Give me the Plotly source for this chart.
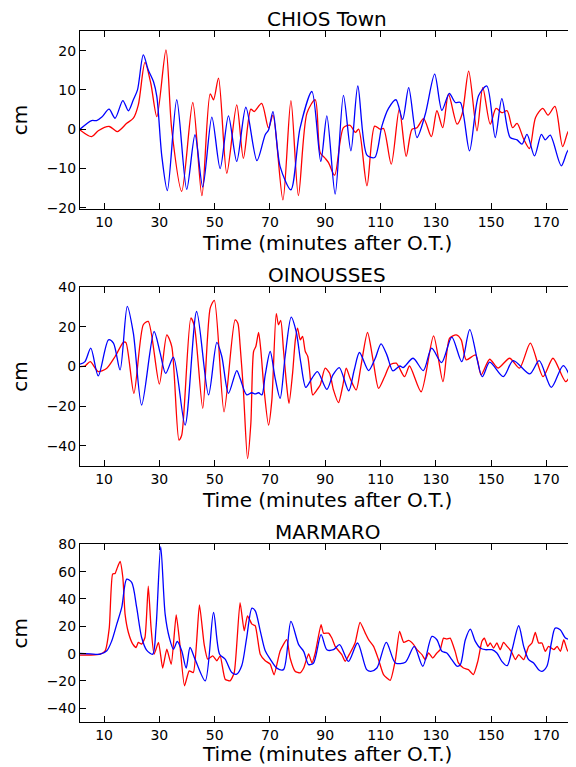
import plotly.graph_objects as go

# ---------------- data ----------------
# Panel 1: CHIOS Town
chios_blue_t = [1.3, 5.5, 7.3, 9.2, 11.8, 14.0, 16.8, 18.8, 20.6, 22.1, 24.2, 26.0, 27.9, 29.1, 30.9, 32.9,
                36.3, 39.9, 42.9, 45.7, 49.0, 52.0, 55.0, 58.0, 61.3, 65.3, 68.3, 69.5, 71.1, 73.7, 77.6, 80.9,
                85.2, 88.4, 90.6, 93.6, 96.6, 99.3, 101.8, 105.1, 107.9, 110.5, 112.9, 115.6, 118.0, 120.2,
                123.2, 126.2, 129.6, 132.2, 134.9, 137.1, 138.9, 142.2, 145.5, 148.5, 151.5, 153.9, 156.9,
                159.4, 161.2, 163.0, 165.7, 168.2, 169.6, 171.4, 175.4, 178.0, 180.0]
chios_blue_cm = [0, 2.2, 2.2, 3.1, 5.1, 2.8, 7.3, 4.7, 7.5, 10, 18.9, 15.1, 12.1, 8.3, -6.9, -15.6,
                 7.5, -15.3, -1.4, -14.7, 3.1, -10, 3.4, -8.2, 5.6, -8, -1.4, -0.2, 4.5, -9.5, -15.4, 0.3,
                 9.6, -8.2, 3.4, -16.5, 8.6, -5.5, 11, -6.6, -7.2, 0.8, 5.3, 7.5, 2.5, 10.6,
                 -2.1, 3.8, 14, 4.8, 9.1, 6.8, 6.8, -5.5, 8.6, 11, -2.1, 7.8, -2.1,
                 -2.7, -3.8, -1.3, -6.8, -1.3, -2.7, -1.5, -9.3, -5.3, -6.1]
chios_red_t = [1.3, 5.5, 7.9, 11.9, 14.8, 18.2, 20.6, 22.4, 24.8, 26.9, 29.1, 32.4, 34.5, 38.1, 42.1, 45.4,
               48.4, 49.6, 51.4, 54.4, 58.0, 60.4, 63.1, 64.3, 67.0, 69.5, 71.1, 74.7, 77.6, 80.3, 83.4, 86.4,
               88.2, 90.0, 91.2, 93.4, 96.6, 99.0, 100.9, 102.1, 105.1, 107.9, 109.9, 111.1, 113.9, 116.8,
               119.3, 121.4, 123.2, 125.6, 128.4, 130.4, 132.5, 134.6, 137.7, 139.5, 141.9, 144.9, 147.0,
               149.7, 151.8, 153.9, 155.8, 157.8, 159.4, 161.8, 163.9, 166.1, 168.7, 170.6, 173.1, 175.9,
               178.1, 180.0]
chios_red_cm = [-0.2, -1.9, -0.4, 0.7, -0.6, 1.5, 2.8, 6.2, 17, 11.7, 3.2, 20.2, -0.2, -15.8, 6.8, -16.9,
                9, 7.5, 13, -11.2, 6.2, -7.4, 5.1, 4.5, 6.6, 0.3, 3.6, -18, 7.3, -16.9, 4.1, 7.5,
                -6.0, -7.4, -8.5, -11.7, 0.4, 1, -0.8, 0, -14.4, 0.8, 0, 0.2, -8.9, 5.1,
                -6.9, 0, 0.4, 2.7, -1.9, 4.7, 0.4, 8.9, 1.3, 3.8, 14.8, -0.4, 10.6,
                1.3, 5.3, 4.2, 4.7, 0.4, 1.5, -2.5, -4.9, 3, 5.3, 3.6, 5.8, -4.4,
                -0.4, -2.4]

# Panel 2: OINOUSSES
oin_blue_t = [1.3, 3.1, 5.2, 7.9, 11.6, 13.4, 15.8, 18.4, 20.6, 23.6, 28.1, 30.3, 32.3, 35.1, 39.3, 43.5,
              47.8, 50.8, 52.6, 55.0, 58.0, 59.2, 61.6, 63.4, 64.7, 65.9, 67.1, 68.3, 70.1, 71.9, 73.7, 75.5,
              77.7, 79.5, 81.2, 83.0, 85.2, 87.2, 90.6, 92.8, 95.1, 98.5, 100.5, 102.4, 105.7, 108.1, 110.2,
              112.3, 114.5, 117.0, 118.2, 121.8, 125.5, 128.5, 132.1, 135.8, 139.4, 142.3, 146.8, 149.5,
              154.4, 158.0, 164.0, 167.4, 171.8, 176.1, 179.6]
oin_blue_cm = [1.2, 2.5, 9.3, -4.7, 13.5, 11.8, -1.7, 30.4, 16.9, -19.4, 17.7, 6.8, -3.4, 4.7, -29.5, 27.8,
               -14.3, 12.2, 5.1, -13.5, -2, -5.9, -14.3, -13.2, -13.8, -13.2, -14.3, -4.2, 7.6, -5.9, -16, 5.1,
               25, 17.7, 1.7, -10.5, -5.9, -2.5, -11.5, -4.2, -0.5, -12.2, -1.7, 7.1, -2, 4.2, 11.5,
               5.9, -2.2, 0.3, -0.5, 4.2, -2, 9.3, 2, 14.9, 2.5, 18.6, -5.1, 2.2,
               -5.1, 3, -3.7, 3, -10.5, 0.5, -8.8]
oin_red_t = [1.3, 3.1, 5.0, 7.9, 11.0, 14.0, 17.0, 17.9, 20.8, 24.2, 26.0, 30.0, 32.7, 34.5, 37.1, 38.1,
             41.4, 42.7, 45.7, 48.4, 49.9, 53.4, 57.4, 58.4, 59.2, 60.4, 61.9, 63.1, 64.1, 64.9, 65.9, 66.7,
             67.9, 69.5, 70.7, 72.3, 73.1, 73.9, 74.9, 76.1, 76.9, 78.2, 79.2, 80.0, 81.0, 81.8, 82.8, 83.7,
             84.8, 85.5, 87.0, 88.2, 90.0, 91.6, 93.0, 94.8, 96.4, 97.6, 99.0, 101.2, 102.9, 105.3, 107.3,
             109.3, 111.4, 113.5, 115.7, 118.7, 120.5, 124.7, 129.2, 132.6, 135.0, 137.4, 139.2, 141.0,
             144.4, 146.4, 149.5, 152.5, 156.7, 160.3, 164.2, 168.8, 172.4, 177.0, 179.6]
oin_red_cm = [0, 0.3, 2.5, -2.5, -0.8, 5.1, 12.2, 12.2, -13.5, 21.1, 22.8, -8.8, 16, 10.1, -37.1, -34.6,
              24.5, 20.3, -21.1, 29.5, 33.4, -22.8, 23.6, 21.9, 11, -11.8, -46.4, -28.7, 7.6, 10.1, 17.2, 8.5,
              -11.8, -29.5, -16.9, 26.7, 21.1, 23.3, 8.5, -10.1, -18.6, -3.4, 13.5, 19.4, 13.5, 15.2, 7.6, 5.1,
              -8.4, -14.3, -11.8, -9.3, -0.8, -3.4, -11.8, -18.2, -9.3, -0.8, -5.9, -11.8, 0, 17.2, 3.4,
              -11, -5.4, 0.9, 1.7, -5.1, 0.3, -12.7, 15.5, -7.6, 14.3, 16, 13.5, 3.4,
              5.9, -4.2, 3.7, -0.8, 4.2, -0.8, 11.8, -5.1, 4.2, -7.6, -1.7]

# Panel 3: MARMARO
mar_blue_t = [1.3, 5.0, 8.6, 11.0, 12.8, 14.6, 16.4, 18.2, 20.0, 21.8, 23.6, 25.4, 27.6, 28.8, 30.5, 32.1,
              33.6, 35.1, 36.5, 38.1, 39.7, 41.1, 42.9, 46.6, 49.6, 51.8, 53.8, 56.2, 58.0, 59.8, 61.6, 63.5,
              64.7, 66.5, 68.3, 70.1, 72.5, 74.9, 77.6, 80.4, 82.2, 84.0, 85.8, 88.5, 90.6, 93.0, 95.2, 98.4,
              101.7, 105.0, 106.5, 108.7, 112.1, 115.4, 119.0, 122.2, 125.3, 128.6, 130.4, 132.2, 134.0,
              135.8, 137.7, 138.9, 140.7, 142.5, 144.3, 146.1, 147.9, 150.3, 152.1, 153.9, 155.8, 157.6,
              160.0, 161.8, 163.6, 165.4, 167.2, 168.4, 170.2, 171.8, 173.2, 175.0, 176.9, 178.3, 179.9]
mar_blue_cm = [0.1, -0.2, -0.4, 2.1, 9.4, 21.6, 33.8, 54.5, 52.1, 33.8, 11.8, 2.6, -0.4, 19.1, 78.2, 28.9,
               11.8, 3.3, 8.9, 2.1, -10.6, 4.5, -4, -19.9, 30.1, -0.4, -4, -13.8, -15, -8.9, 11.8, 33.3,
               31.3, 16.7, 2.1, -4, -10.6, -11.7, 23.6, 6.6, 1.7, -8, -6.8, 13.9, 2.9, 2.9, 6.6, -5.6,
               7.8, -11.7, -12.9, -10.5, 8.3, -6.8, -6.3, 5.3, -9.2, 12.6, 10.2, 1.7, 0.5,
               -4.4, -9.2, -8, 10.2, 18, 9, 4.1, 2.9, 2.9, 0.5, -5.6, -8.8, 2.9,
               20.4, 5.3, -4.4, -6.8, -11.7, -12.9, -9.2, 7.8, 18.7, 17.5, 11.4, 10.2, 5.3]
mar_red_t = [1.3, 5.0, 8.6, 10.4, 11.9, 13.1, 14.0, 14.6, 15.8, 16.8, 17.6, 18.8, 20.4, 21.6, 22.4, 23.6,
             24.8, 26.0, 27.0, 28.1, 29.7, 31.2, 32.7, 34.3, 36.1, 37.3, 39.1, 40.8, 42.3, 44.5, 46.2, 47.5,
             49.3, 50.8, 52.0, 53.8, 55.6, 57.1, 59.2, 60.7, 61.9, 63.5, 64.7, 66.5, 68.3, 70.1, 71.5, 73.7,
             76.1, 77.3, 79.1, 80.9, 82.2, 84.0, 85.2, 86.4, 88.5, 89.4, 91.2, 92.4, 93.6, 96.0, 97.2, 99.0,
             100.8, 102.6, 104.5, 105.7, 107.5, 109.3, 111.1, 113.5, 115.4, 116.9, 118.4, 120.2, 122.0,
             123.2, 125.0, 126.2, 127.4, 128.9, 130.4, 131.6, 132.8, 134.0, 135.2, 137.0, 138.2, 140.0,
             141.8, 143.6, 145.2, 146.7, 147.6, 148.8, 149.7, 150.9, 152.1, 153.3, 154.5, 155.8, 157.3,
             158.8, 160.0, 161.8, 163.6, 164.8, 166.0, 167.2, 168.4, 169.6, 170.8, 172.7, 173.9, 175.1,
             176.3, 177.5, 178.7, 179.5]
mar_red_cm = [-1.1, -1.0, -0.4, 2.1, 19.1, 58.2, 58.7, 61.8, 67.4, 55.7, 28.9, 15.5, 7, 4.5, 8.2, 7,
              11.8, 49.4, 19.1, -0.4, 8.2, -10.6, 3.3, -7.7, 28.4, 9.4, -23.5, -12.6, -13.8, 35.7, 7, -4,
              -1.6, -5.2, -1.6, -18.7, -19.9, -13.8, 37.4, 16.7, 27.7, 21.6, 20.4, -0.4, -5.2, -7.7, -15.5, 2,
              10.2, -3.2, -12.9, -14.1, -10.5, -0.2, -6.8, 0.5, 21.2, 15, 15, 11.4, 5.3, -0.7, -5.6, 0.5,
              7.8, 22.9, 15, 10.2, 5.3, -4.4, -15.3, -19.5, -4.4, 16.3, 8.3, 9.7, 6.6,
              2.9, -0.7, -4.4, 0.5, -3.2, 0.5, 2.9, 11.4, 10.7, 11.4, 1.7, -6.8, -10.5,
              -11.7, -15.3, -5.6, 9, 11.4, 5.3, 7.8, 4.1, 7.8, 2.9, 8.3, 5.3, 1.7,
              -4.4, -0.7, -4.4, 5.3, 7.8, 15.6, 7.8, 7.8, 1.7, 5.3, 2.9, 5.3, 1.7,
              10.2, 2.9, -0.7, -4.4]

panel_titles = ["CHIOS Town", "OINOUSSES", "MARMARO"]
x_tickvals = [10, 30, 50, 70, 90, 110, 130, 150, 170]
y_tickvals = [[-20, -10, 0, 10, 20], [-40, -20, 0, 20, 40], [-40, -20, 0, 20, 40, 60, 80]]
y_ranges = [[-20.3, 25], [-50, 40], [-50, 80]]
x_range = [1.3, 180]
x_title = "Time (minutes after O.T.)"
y_title = "cm"

series = [
    (chios_red_t, chios_red_cm, chios_blue_t, chios_blue_cm),
    (oin_red_t, oin_red_cm, oin_blue_t, oin_blue_cm),
    (mar_red_t, mar_red_cm, mar_blue_t, mar_blue_cm),
]
red_smoothing = [0.8, 0.7, 0.5]

# ---------------- figure ----------------
# the page places the figure 8px from the top-left corner (body margin)
OFF = 8
W, H = 576 - OFF, 767 - OFF
ML, MR, MT, MB = 80 - OFF, 2, 31 - OFF, 45
PH = H - MT - MB
plot_bottom_page = OFF + H - MB  # 722


def frac(ypx):
    return (plot_bottom_page - ypx) / PH


domains = [[frac(209), 1.0], [frac(465.7), frac(287.3)], [0.0, frac(544.3)]]
xtitle_centers = [242.5, 500, 754]

FONT = "DejaVu Sans"
fig = go.Figure()
for i, (rt, rv, bt, bv) in enumerate(series):
    n = "" if i == 0 else str(i + 1)
    assert len(rt) == len(rv), (i, len(rt), len(rv))
    assert len(bt) == len(bv), (i, len(bt), len(bv))
    fig.add_trace(go.Scatter(x=rt, y=rv, mode="lines",
                             line=dict(color="#ff0000", width=1.3, shape="spline", smoothing=red_smoothing[i]),
                             xaxis="x" + n, yaxis="y" + n, showlegend=False))
    fig.add_trace(go.Scatter(x=bt, y=bv, mode="lines",
                             line=dict(color="#0000ff", width=1.3, shape="spline", smoothing=0.8),
                             xaxis="x" + n, yaxis="y" + n, showlegend=False))
    axis_common = dict(ticks="inside", ticklen=6, tickwidth=1, tickcolor="black", showline=True,
                       linecolor="black", linewidth=1, mirror="ticks", showgrid=False, zeroline=False,
                       tickfont=dict(family=FONT, size=14, color="black"))
    fig.layout["xaxis" + n] = dict(axis_common, range=x_range, tickvals=x_tickvals, anchor="y" + n,
                                   domain=[0, 1])
    fig.layout["yaxis" + n] = dict(axis_common, range=y_ranges[i], tickvals=y_tickvals[i], anchor="x" + n,
                                   domain=domains[i],
                                   title=dict(text=y_title, font=dict(family=FONT, size=20, color="black"), standoff=14))
    fig.add_annotation(text=panel_titles[i], xref="paper", yref="paper", x=0.5, y=domains[i][1],
                       xanchor="center", yanchor="bottom", yshift=-2, showarrow=False,
                       font=dict(family=FONT, size=20, color="black"))
    fig.add_annotation(text=x_title, xref="paper", yref="paper", x=0.5, y=frac(xtitle_centers[i]),
                       xanchor="center", yanchor="middle", showarrow=False, borderpad=0,
                       font=dict(family=FONT, size=20, color="black"))

fig.update_layout(width=W, height=H, margin=dict(l=ML, r=MR, t=MT, b=MB, autoexpand=False),
                  paper_bgcolor="white", plot_bgcolor="white")
fig.write_html("out.html")
